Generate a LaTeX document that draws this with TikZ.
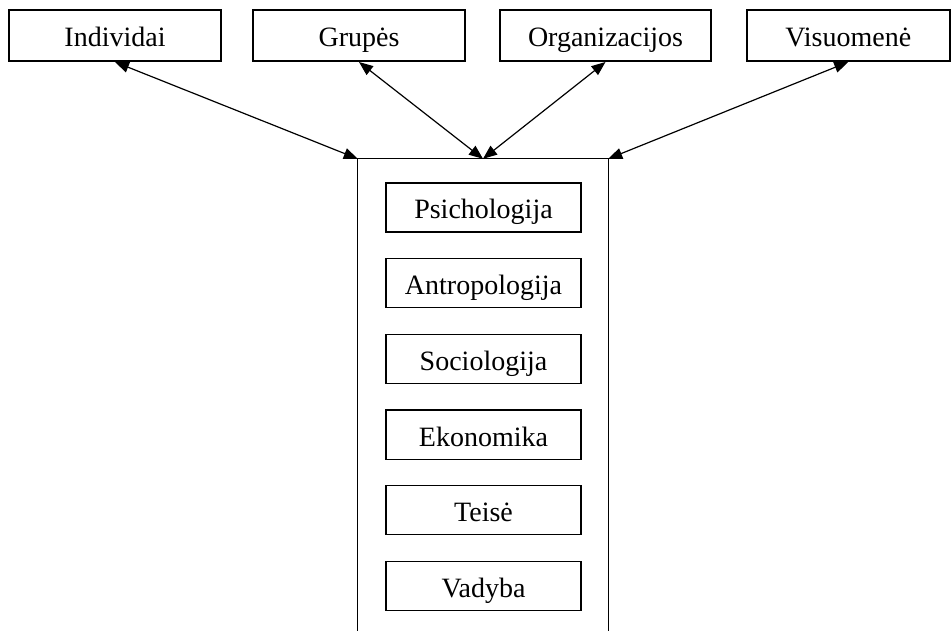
\documentclass[tikz,border=0pt]{standalone}
\usepackage{fontspec}
\setmainfont{Liberation Serif}
\usetikzlibrary{arrows.meta}

\newlength{\du}
\setlength{\du}{15\unitlength}

\tikzset{
  kategorija/.style={draw, line width=2pt, minimum width=14.133\du, minimum height=3.4\du, inner sep=0pt, text height=28pt, text depth=5pt, font=\fontsize{28}{32}\selectfont},
  disciplina/.style={draw, line width=1.2pt, minimum width=13\du, minimum height=3.267\du, inner sep=0pt, text height=28pt, text depth=5pt, font=\fontsize{28}{32}\selectfont},
  rysys/.style={line width=1.2pt, {Triangle[length=14pt,width=11pt]}-{Triangle[length=14pt,width=11pt]}}
}

\begin{document}
\begin{tikzpicture}
\pgftransformxscale{1.000000}
\pgftransformyscale{-1.000000}
\definecolor{dialinecolor}{rgb}{0.000000, 0.000000, 0.000000}
\pgfsetstrokecolor{dialinecolor}
\useasboundingbox (0\du,0\du) rectangle (63.400000\du,42.066667\du);
% top row
\node[kategorija] (individai) at (7.666667\du,2.366667\du){Individai};
\node[kategorija] (grupes) at (23.933333\du,2.366667\du){Grupės};
\node[kategorija, minimum width=14.066667\du] (organizacijos) at (40.366667\du,2.366667\du){Organizacijos};
\node[kategorija, minimum width=13.500000\du] (visuomene) at (56.550000\du,2.366667\du){Visuomenė};
% outer frame, open at the bottom
\node[minimum width=16.666667\du, minimum height=31.466667\du, inner sep=0pt] (mokslai) at (32.200000\du,26.333333\du){};
\pgfsetlinewidth{1.300000pt}
\draw (mokslai.south west)--(mokslai.north west)--(mokslai.north east)--(mokslai.south east);
% disciplines
\node[disciplina] (psichologija) at (32.233333\du,13.833333\du){Psichologija};
\node[disciplina] (antropologija) at (32.233333\du,18.880000\du){Antropologija};
\node[disciplina] (sociologija) at (32.233333\du,23.926667\du){Sociologija};
\node[disciplina] (ekonomika) at (32.233333\du,28.973333\du){Ekonomika};
\node[disciplina] (teise) at (32.233333\du,34.020000\du){Teisė};
\node[disciplina] (vadyba) at (32.233333\du,39.066667\du){Vadyba};
% links
\draw[rysys] (individai.south)--(mokslai.north west);
\draw[rysys] (grupes.south)--(mokslai.north);
\draw[rysys] (organizacijos.south)--(mokslai.north);
\draw[rysys] (visuomene.south)--(mokslai.north east);
\end{tikzpicture}
\end{document}
